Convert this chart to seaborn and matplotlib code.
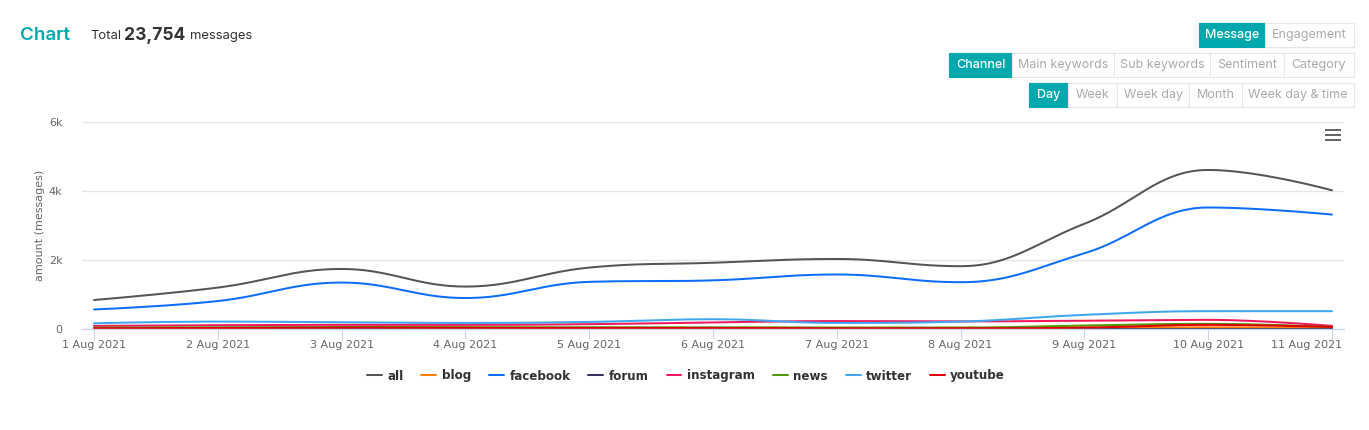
import numpy as np
import pandas as pd
import matplotlib
matplotlib.use('Agg')
import matplotlib.pyplot as plt
import matplotlib.transforms as mtransforms
from matplotlib.patches import Rectangle
import seaborn as sns

# dados diarios
dates = ['1 Aug 2021', '2 Aug 2021', '3 Aug 2021', '4 Aug 2021', '5 Aug 2021', '6 Aug 2021',
         '7 Aug 2021', '8 Aug 2021', '9 Aug 2021', '10 Aug 2021', '11 Aug 2021']
channels = ['all', 'blog', 'facebook', 'forum', 'instagram', 'news', 'twitter', 'youtube']
all_msgs = [840, 1200, 1740, 1230, 1780, 1920, 2030, 1820, 3050, 4610, 4020]
blog = [30, 30, 30, 30, 30, 30, 30, 30, 40, 50, 30]
facebook = [566, 810, 1346, 898, 1366, 1410, 1580, 1356, 2195, 3522, 3317]
forum = [5, 5, 5, 5, 5, 5, 5, 5, 5, 5, 5]
instagram = [90, 110, 120, 120, 140, 190, 230, 220, 240, 265, 90]
news = [40, 50, 60, 50, 50, 50, 40, 40, 100, 150, 60]
twitter = [166, 215, 195, 176, 205, 283, 176, 215, 410, 517, 517]
youtube = [20, 30, 40, 30, 30, 30, 20, 20, 40, 120, 60]
series = [all_msgs, blog, facebook, forum, instagram, news, twitter, youtube]
colors = ['#555555', '#FF7F00', '#0D6EFD', '#36305E', '#F0185A', '#4E9A06', '#3FA7F0', '#E00000']

teal = '#00A8AD'


def spline(xs, ys, n=40):
    # curva suave no estilo do highcharts (bezier com controles 1.5/2.5)
    xs = np.asarray(xs, float)
    ys = np.asarray(ys, float)
    m = len(xs)
    lcx, lcy, rcx, rcy = xs.copy(), ys.copy(), xs.copy(), ys.copy()
    for i in range(1, m - 1):
        x, y = xs[i], ys[i]
        px, py = xs[i - 1], ys[i - 1]
        nx, ny = xs[i + 1], ys[i + 1]
        lx = (1.5 * x + px) / 2.5
        ly = (1.5 * y + py) / 2.5
        rx = (1.5 * x + nx) / 2.5
        ry = (1.5 * y + ny) / 2.5
        if rx != lx:
            corr = ((ry - ly) * (rx - x)) / (rx - lx) + y - ry
            ly += corr
            ry += corr
        if ly > py and ly > y:
            ly = max(py, y)
            ry = 2 * y - ly
        elif ly < py and ly < y:
            ly = min(py, y)
            ry = 2 * y - ly
        if ry > ny and ry > y:
            ry = max(ny, y)
            ly = 2 * y - ry
        elif ry < ny and ry < y:
            ry = min(ny, y)
            ly = 2 * y - ry
        lcx[i], lcy[i], rcx[i], rcy[i] = lx, ly, rx, ry
    t = np.linspace(0, 1, n)[:, None]
    out_x, out_y = [xs[:1]], [ys[:1]]
    for i in range(1, m):
        p0 = np.array([xs[i - 1], ys[i - 1]])
        p1 = np.array([rcx[i - 1], rcy[i - 1]])
        p2 = np.array([lcx[i], lcy[i]])
        p3 = np.array([xs[i], ys[i]])
        pts = ((1 - t) ** 3) * p0 + 3 * ((1 - t) ** 2) * t * p1 + 3 * (1 - t) * t ** 2 * p2 + t ** 3 * p3
        out_x.append(pts[1:, 0])
        out_y.append(pts[1:, 1])
    return np.concatenate(out_x), np.concatenate(out_y)


rows = []
day_idx = np.arange(len(dates))
for name, vals in zip(channels, series):
    sx, sy = spline(day_idx, vals)
    rows.append(pd.DataFrame({'day': sx, 'amount': sy, 'channel': name}))
df = pd.concat(rows, ignore_index=True)

sns.set_theme(style='white')
plt.rcParams['font.family'] = ['DejaVu Sans']

W, H = 1369, 430
fig = plt.figure(figsize=(W / 100, H / 100), dpi=100)
ax = fig.add_axes([82 / W, (H - 329) / H, (1344 - 82) / W, (329 - 122) / H])

sns.lineplot(data=df, x='day', y='amount', hue='channel', hue_order=channels,
             palette=colors, sort=False, estimator=None, linewidth=1.45, ax=ax)

ax.set_xlim(-12 / 123.8, 10 + 12 / 123.8)
ax.set_ylim(0, 6000)
ax.set_yticks([0, 2000, 4000, 6000])
ax.set_yticklabels(['0', '2k', '4k', '6k'])
ax.set_xticks(day_idx)
ax.set_xticklabels(dates)
ax.grid(axis='y', color='#e6e6e6', linewidth=1)
ax.set_axisbelow(True)
for s in ['top', 'right', 'left']:
    ax.spines[s].set_visible(False)
ax.spines['bottom'].set_color('#ccd6eb')
ax.spines['bottom'].set_linewidth(1)
ax.tick_params(axis='x', length=7, width=0.8, color='#ccd6eb', labelsize=8, labelcolor='#666666', pad=1, bottom=True)
ax.tick_params(axis='y', length=0, labelsize=8, labelcolor='#666666', pad=14)
ax.set_xlabel('')
ax.set_ylabel('amount (messages)', fontsize=8, color='#666666', labelpad=3)

# ultimo rotulo empurrado pra dentro, como no highcharts
last = ax.get_xticklabels()[-1]
last.set_transform(last.get_transform() + mtransforms.ScaledTranslation(-0.25, 0, fig.dpi_scale_trans))

handles, labels = ax.get_legend_handles_labels()
ax.get_legend().remove()
fig.legend(handles, labels, loc='center', bbox_to_anchor=(686 / W, 1 - 376 / H), ncol=8,
           frameon=False, handlelength=1.25, handletextpad=0.45, columnspacing=1.5,
           prop={'weight': 'bold', 'size': 8.6})
for t in fig.legends[0].get_texts():
    t.set_color('#333333')

# cabecalho
fig.text(20 / W, 1 - 35 / H, 'Chart', fontsize=13.5, color=teal, family='Inter', weight='semibold', va='center')
fig.text(90 / W, 1 - 36 / H, 'Total', fontsize=9.4, color='#333333', family='Inter', va='center')
fig.text(124 / W, 1 - 35 / H, '23,754', fontsize=12.6, color='#333333', family='Inter', weight='bold', va='center')
fig.text(190 / W, 1 - 36 / H, 'messages', fontsize=9.4, color='#333333', family='Inter', va='center')

# botoes
button_rows = [
    (23, 47, [('Message', 1199, 1265, True), ('Engagement', 1265, 1354, False)]),
    (53, 77, [('Channel', 949, 1012, True), ('Main keywords', 1012, 1114, False),
              ('Sub keywords', 1114, 1210, False), ('Sentiment', 1210, 1284, False),
              ('Category', 1284, 1354, False)]),
    (83, 107, [('Day', 1029, 1068, True), ('Week', 1068, 1117, False), ('Week day', 1117, 1189, False),
               ('Month', 1189, 1242, False), ('Week day & time', 1242, 1354, False)]),
]
for y0, y1, items in button_rows:
    for label, x0, x1, active in items:
        fc = teal if active else 'white'
        ec = teal if active else '#e6e6e6'
        fig.patches.append(Rectangle((x0 / W, 1 - y1 / H), (x1 - x0) / W, (y1 - y0) / H,
                                     transform=fig.transFigure, facecolor=fc, edgecolor=ec, linewidth=0.8))
        fig.text((x0 + x1) / 2 / W, 1 - (y0 + y1) / 2 / H, label, ha='center', va='center',
                 fontsize=9, family='Inter', color='white' if active else '#aaaaaa',
                 weight='medium' if active else 'normal')

# icone de menu
for yy in [130, 135, 140]:
    fig.patches.append(Rectangle((1325 / W, 1 - (yy + 1.2) / H), 16 / W, 2.4 / H,
                                 transform=fig.transFigure, facecolor='#666666', edgecolor='none'))

fig.savefig('out.png', dpi=100)
